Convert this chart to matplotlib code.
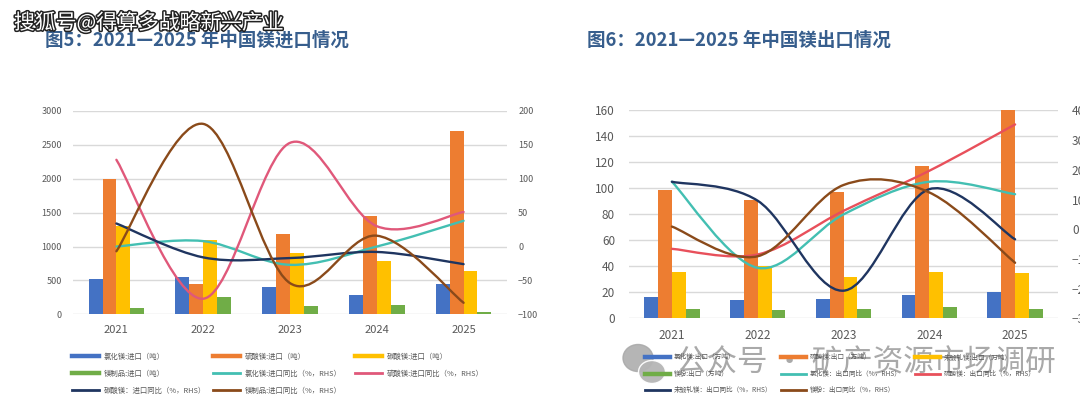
import numpy as np
import matplotlib
matplotlib.use("Agg")
import matplotlib.pyplot as plt
from matplotlib.path import Path
from matplotlib.patches import PathPatch, Ellipse
from matplotlib.lines import Line2D
import matplotlib.patheffects as pe

plt.rcParams['font.family'] = ['Noto Sans CJK SC', 'DejaVu Sans']

# ---------------- data ----------------
years = ["2021", "2022", "2023", "2024", "2025"]

# Figure 5: imports (tons)
imp_mgcl2 = [520, 557, 403, 280, 443]
imp_mgso4 = [1993, 454, 1181, 1456, 2711]
imp_mgco3 = [1310, 1095, 905, 782, 635]
imp_prod = [88, 260, 127, 142, 30]
# import YoY (%, RHS)
imp_mgcl2_yoy = [0, 8, -27, 0, 38]
imp_mgso4_yoy = [128, -77, 153, 30, 51]
imp_mgco3_yoy = [34, -16, -17, -8, -26]
imp_prod_yoy = [-7, 181, -54, 16, -83]

imp_labels = ["氯化镁:进口（吨）", "硫酸镁:进口（吨）", "碳酸镁:进口（吨）",
              "镁制品:进口（吨）", "氯化镁:进口同比（%，RHS）", "硫酸镁:进口同比（%，RHS）",
              "碳酸镁：进口同比（%，RHS）", "镁制品:进口同比（%，RHS）"]

# Figure 6: exports (10k tons)
exp_mgcl2 = [16.2, 14.1, 15.2, 17.7, 20.0]
exp_mgso4 = [98.5, 91.1, 97.5, 117.6, 163.0]
exp_mg = [35.7, 39.9, 31.7, 35.7, 34.7]
exp_powder = [6.9, 6.2, 7.2, 8.5, 7.2]
# export YoY (%, RHS)
exp_mgcl2_yoy = [16, -13, 5, 16, 11.8]
exp_mgso4_yoy = [-6.6, -8.5, 6.2, 19.7, 35.3]
exp_mg_yoy = [16, 9.6, -20.7, 13.5, -3.4]
exp_powder_yoy = [0.9, -9.1, 14.9, 12.4, -11.3]

exp_labels = ["氯化镁:出口（万吨）", "硫酸镁:出口（万吨）", "未锻轧镁:出口（万吨）",
              "镁粉:出口（万吨）", "氯化镁：出口同比（%，RHS）", "硫酸镁：出口同比（%，RHS）",
              "未锻轧镁：出口同比（%，RHS）", "镁粉：出口同比（%，RHS）"]

left_ticks_imp = [0, 500, 1000, 1500, 2000, 2500, 3000]
right_ticks_imp = [-100, -50, 0, 50, 100, 150, 200]
left_ticks_exp = [0, 20, 40, 60, 80, 100, 120, 140, 160]
right_ticks_exp = [-30, -20, -10, 0, 10, 20, 30, 40]

# ---------------- style ----------------
C_BLUE = "#4472C4"
C_ORANGE = "#ED7D31"
C_YELLOW = "#FFC000"
C_GREEN = "#70AD47"
C_TEAL = "#43BFB2"
C_NAVY = "#1F3560"
C_BROWN = "#8A4A1A"
C_PINK_L = "#E0587A"
C_PINK_R = "#E8505B"
TICK_C = "#595959"
GRID_C = "#D9D9D9"
TITLE_C = "#375E8D"


def smooth_path(xs, ys):
    pts = np.column_stack([np.asarray(xs, float), np.asarray(ys, float)])
    n = len(pts)
    verts = [tuple(pts[0])]
    codes = [Path.MOVETO]
    for i in range(n - 1):
        p0 = pts[i - 1] if i > 0 else pts[i]
        p1 = pts[i]
        p2 = pts[i + 1]
        p3 = pts[i + 2] if i + 2 < n else pts[i + 1]
        c1 = p1 + (p2 - p0) / 6.0
        c2 = p2 - (p3 - p1) / 6.0
        verts += [tuple(c1), tuple(c2), tuple(p2)]
        codes += [Path.CURVE4] * 3
    return Path(verts, codes)


def panel(rect, bars, bar_colors, lines, line_colors, lticks, rticks,
          lsize, xsize, lpad, rpad, xpad, width):
    ax = fig.add_axes(rect)
    x = np.arange(len(years))
    offs = [-1.5, -0.5, 0.5, 1.5]
    for k, (vals, c) in enumerate(zip(bars, bar_colors)):
        ax.bar(x + offs[k] * width, vals, width=width, color=c, zorder=2)
    ax.set_xlim(-0.5, len(years) - 0.5)
    ax.set_ylim(lticks[0], lticks[-1])
    ax.set_yticks(lticks)
    ax.set_xticks(x)
    ax.set_xticklabels(years)
    ax.grid(axis='y', color=GRID_C, lw=1.0)
    ax.set_axisbelow(True)
    for s in ax.spines.values():
        s.set_visible(False)
    ax.tick_params(axis='y', length=0, labelsize=lsize, labelcolor=TICK_C, pad=lpad)
    ax.tick_params(axis='x', length=0, labelsize=xsize, labelcolor=TICK_C, pad=xpad)

    ax2 = ax.twinx()
    ax2.set_ylim(rticks[0], rticks[-1])
    ax2.set_yticks(rticks)
    for s in ax2.spines.values():
        s.set_visible(False)
    ax2.tick_params(axis='y', length=0, labelsize=lsize, labelcolor=TICK_C, pad=rpad)
    for vals, c in zip(lines, line_colors):
        ax2.add_patch(PathPatch(smooth_path(x, vals), fill=False, edgecolor=c,
                                lw=1.7, capstyle='round', joinstyle='round', zorder=3))
    return ax, ax2


def column_legends(labels, colors, kinds, col_x, top_y, fsize):
    order = [[0, 3, 6], [1, 4, 7], [2, 5]]
    for cx, idxs in zip(col_x, order):
        handles = []
        for i in idxs:
            lw = 3.2 if kinds[i] == 'bar' else 2.0
            handles.append(Line2D([0], [0], color=colors[i], lw=lw))
        leg = fig.legend(handles, [labels[i] for i in idxs],
                         loc='upper left', bbox_to_anchor=(cx, top_y),
                         bbox_transform=fig.transFigure, frameon=False,
                         fontsize=fsize, handlelength=3.7, handletextpad=0.6,
                         labelspacing=1.25, borderpad=0, borderaxespad=0)
        for t in leg.get_texts():
            t.set_color(TICK_C)


W, H = 1080, 408
fig = plt.figure(figsize=(W / 100, H / 100), dpi=100)
fig.patch.set_facecolor('white')

# ---------- Figure 5 ----------
panel([73 / W, 1 - 314.3 / H, 434 / W, (314.3 - 111) / H],
      [imp_mgcl2, imp_mgso4, imp_mgco3, imp_prod],
      [C_BLUE, C_ORANGE, C_YELLOW, C_GREEN],
      [imp_mgcl2_yoy, imp_mgso4_yoy, imp_mgco3_yoy, imp_prod_yoy],
      [C_TEAL, C_PINK_L, C_NAVY, C_BROWN],
      left_ticks_imp, right_ticks_imp, 6.5, 8, 8, 8, 8, 0.16)

imp_colors = [C_BLUE, C_ORANGE, C_YELLOW, C_GREEN, C_TEAL, C_PINK_L, C_NAVY, C_BROWN]
kinds = ['bar'] * 4 + ['line'] * 4
column_legends(imp_labels, imp_colors, kinds,
               [72 / W, 213 / W, 355 / W], 1 - 352.5 / H, 5.3)

# ---------- Figure 6 ----------
panel([629 / W, 1 - 318.3 / H, 429 / W, (318.3 - 110.5) / H],
      [exp_mgcl2, exp_mgso4, exp_mg, exp_powder],
      [C_BLUE, C_ORANGE, C_YELLOW, C_GREEN],
      [exp_mgcl2_yoy, exp_mgso4_yoy, exp_mg_yoy, exp_powder_yoy],
      [C_TEAL, C_PINK_R, C_NAVY, C_BROWN],
      left_ticks_exp, right_ticks_exp, 8.5, 8.5, 10, 10, 8, 0.162)

exp_colors = [C_BLUE, C_ORANGE, C_YELLOW, C_GREEN, C_TEAL, C_PINK_R, C_NAVY, C_BROWN]
column_legends(exp_labels, exp_colors, kinds,
               [645 / W, 781 / W, 915 / W], 1 - 353.5 / H, 4.8)

# ---------- titles ----------
fig.text(45 / W, 1 - 40 / H, "图5：2021—2025 年中国镁进口情况", fontsize=13.3,
         fontweight='bold', color=TITLE_C, va='center', ha='left')
fig.text(587 / W, 1 - 40 / H, "图6：2021—2025 年中国镁出口情况", fontsize=13.3,
         fontweight='bold', color=TITLE_C, va='center', ha='left')

# ---------- watermarks ----------
fig.text(14 / W, 1 - 23 / H, "搜狐号@得算多战略新兴产业", fontsize=15,
         color='white', va='center', ha='left',
         path_effects=[pe.withStroke(linewidth=2.2, foreground='#222222')])

fig.patches.append(Ellipse((638 / W, 1 - 358 / H), 30 / W, 27 / H,
                           transform=fig.transFigure, color='#A8A8A8', alpha=0.85))
fig.patches.append(Ellipse((652 / W, 1 - 372 / H), 27 / W, 23 / H,
                           transform=fig.transFigure, color='#B5B5B5', alpha=0.95,
                           ec='white', lw=1))
fig.text(676 / W, 1 - 363 / H, "公众号 · 矿产资源市场调研", fontsize=22,
         color='#9A9A9A', alpha=0.85, va='center', ha='left')

fig.savefig("out.png", dpi=100, facecolor='white')
